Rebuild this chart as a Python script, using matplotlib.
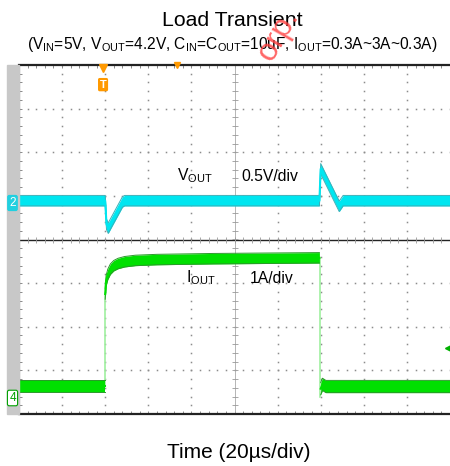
import numpy as np
import matplotlib.pyplot as plt
from matplotlib.patches import Rectangle

plt.rcParams['font.family'] = 'Liberation Sans'
plt.rcParams['mathtext.fontset'] = 'custom'
plt.rcParams['mathtext.rm'] = 'Liberation Sans'

# scope traces, time and level in divisions
vout_t = [0, 2.0, 2.03, 2.07, 2.40, 2.45, 6.97, 7.0, 7.43, 7.52, 10]
vout_v = [0.89, 0.89, 0.35, 0.26, 0.86, 0.89, 0.89, 1.62, 0.76, 0.89, 0.89]

iout_lo_t = [0, 2.0]
iout_lo_v = [-3.35, -3.35]
iout_hi_t = [2.0, 2.02, 2.06, 2.12, 2.2, 2.3, 2.45, 2.7, 3.2, 4.5, 6.97]
iout_hi_v = [-1.25, -0.95, -0.8, -0.68, -0.6, -0.55, -0.51, -0.48, -0.46, -0.44, -0.42]
iout_end_t = [7.0, 7.04, 7.12, 10]
iout_end_v = [-3.42, -3.32, -3.37, -3.37]
rise_edge_v = [-3.35, -1.25]
fall_edge_v = [-0.42, -3.62]

fig = plt.figure(figsize=(4.5, 4.66), dpi=100)
W, H = 450, 466
ax = fig.add_axes([19 / W, (H - 414) / H, 431 / W, 349 / H])
ax.set_xlim(0, 10)
ax.set_ylim(-4, 4)

# left gray strip
fig.patches.append(Rectangle((7 / W, (H - 414) / H), 12 / W, 349 / H,
                             transform=fig.transFigure, color='#c8c8c8', zorder=0))

# dotted grid
fine = np.arange(0, 10.01, 0.2)
fine_y = np.arange(-4, 4.01, 0.2)
for gy in range(-3, 4):
    if gy != 0:
        ax.plot(fine, [gy] * len(fine), ls='none', marker='s', ms=1.1, color='#8c8c8c', mec='none')
for gx in range(1, 10):
    if gx != 5:
        ax.plot([gx] * len(fine_y), fine_y, ls='none', marker='s', ms=1.1, color='#8c8c8c', mec='none')

# centre axes
ax.axhline(0, color='#222222', lw=1.0)
ax.axvline(5, color='#aaaaaa', lw=0.6)
ax.plot(fine, [0] * len(fine), ls='none', marker='|', ms=4, mew=0.6, color='#999999')
ax.plot([5] * len(fine_y), fine_y, ls='none', marker='_', ms=4, mew=0.6, color='#999999')

for s in ['top', 'bottom']:
    ax.spines[s].set_color('#222222')
    ax.spines[s].set_linewidth(1.6)
ax.spines['left'].set_color('#444444')
ax.spines['left'].set_linewidth(0.8)
ax.spines['right'].set_visible(False)
ax.set_xticks(range(0, 11))
ax.set_yticks(range(-4, 5))
ax.set_xticks(fine, minor=True)
ax.set_yticks(fine_y, minor=True)
ax.tick_params(which='both', direction='in', top=True, bottom=True, left=True, right=False,
               length=2.5, width=0.6, color='#777777', labelbottom=False, labelleft=False)


def band(t, v, half, fill, edge):
    t = np.asarray(t)
    v = np.asarray(v)
    ax.fill_between(t, v - half, v + half, color=fill, lw=0, zorder=3)
    ax.plot(t, v + half, color=edge, lw=0.7, zorder=3)
    ax.plot(t, v - half, color=edge, lw=0.7, zorder=3)
    ax.plot(t, v, color=fill, lw=1.5, zorder=3)


# VOUT trace
band(vout_t, vout_v, 0.12, '#00e6f0', '#3ab0b8')

# IOUT trace
ax.plot([2.0, 2.0], rise_edge_v, color='#a0f0a0', lw=1.2, zorder=3)
ax.plot([6.98, 6.98], fall_edge_v, color='#a0f0a0', lw=1.2, zorder=3)
band(iout_lo_t, iout_lo_v, 0.14, '#00e000', '#2a9a2a')
band(iout_hi_t, iout_hi_v, 0.12, '#00e000', '#2a9a2a')
band(iout_end_t, iout_end_v, 0.14, '#00e000', '#2a9a2a')

# labels inside the screen
ax.text(3.67, 1.35, r'V$_{\mathrm{OUT}}$', fontsize=11.3)
ax.text(5.15, 1.35, '0.5V/div', fontsize=11.3)
ax.text(3.87, -0.99, r'I$_{\mathrm{OUT}}$', fontsize=11.3)
ax.text(5.36, -0.99, '1A/div', fontsize=11.3)

# channel markers, trigger
fig.text(12.5 / W, (H - 203) / H, '2', ha='center', va='center', fontsize=8.5, color='white',
         bbox=dict(boxstyle='round,pad=0.18', fc='#20d0e0', ec='none'))
fig.text(12.5 / W, (H - 398) / H, '4', ha='center', va='center', fontsize=8.5, color='#00a000',
         bbox=dict(boxstyle='round,pad=0.15', fc='white', ec='#00a000', lw=0.8))
ax.plot(1.95, 3.93, marker='v', ms=6, color='#ff9900', clip_on=False, zorder=5)
ax.text(1.95, 3.55, 'T', ha='center', va='center', fontsize=8, color='white', fontweight='bold',
        bbox=dict(boxstyle='round,pad=0.15', fc='#ff9900', ec='none'), zorder=5)
ax.plot(3.67, 4.0, marker='v', ms=4, color='#ff9900', clip_on=False, zorder=5)
ax.plot(9.95, -2.48, marker='<', ms=5, color='#00b000', clip_on=False, zorder=5)

# titles
fig.text(232 / W, 1 - 21 / H, 'Load Transient', ha='center', va='center', fontsize=15.3)
fig.text(232 / W, 1 - 45 / H,
         r'(V$_{\mathrm{IN}}$=5V, V$_{\mathrm{OUT}}$=4.2V, C$_{\mathrm{IN}}$=C$_{\mathrm{OUT}}$=10uF, '
         r'I$_{\mathrm{OUT}}$=0.3A~3A~0.3A)', ha='center', va='center', fontsize=11.2)
fig.text(239 / W, 1 - 453 / H, 'Time (20µs/div)', ha='center', va='center', fontsize=15)

# watermark
fig.text(278 / W, 1 - 35 / H, 'orp.', ha='center', va='center', rotation=60, fontsize=23,
         color='#ff4040', alpha=0.8, zorder=10)

fig.savefig('out.png', dpi=100)
